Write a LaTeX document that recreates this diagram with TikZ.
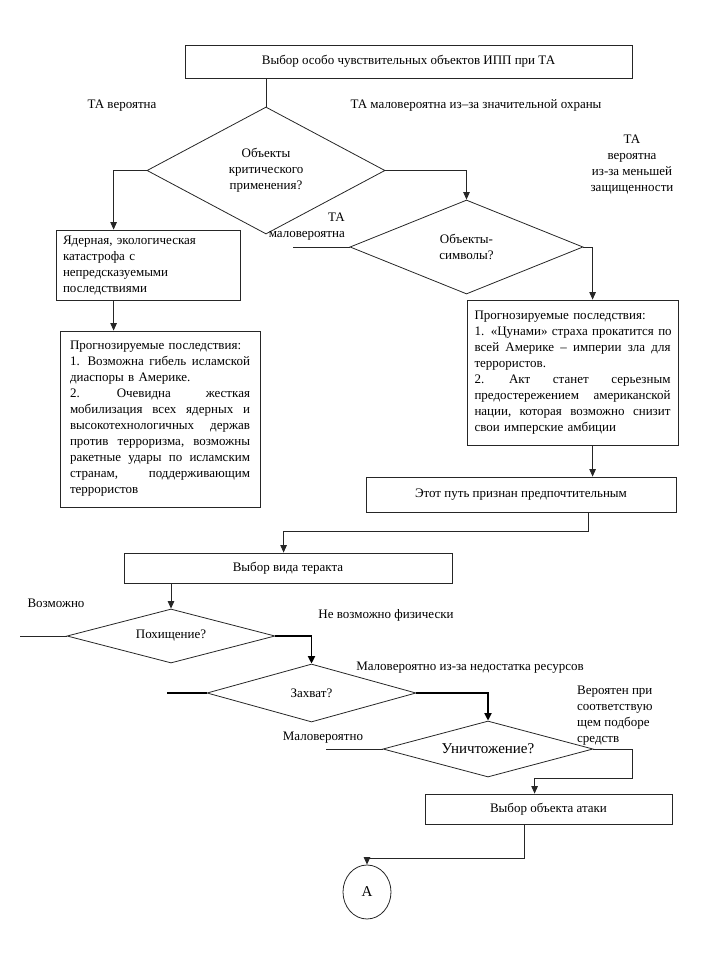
\documentclass[tikz,border=0pt]{standalone}
\usepackage{fontspec}
\setmainfont{Liberation Serif}
\usetikzlibrary{shapes.geometric,arrows.meta}

\newcommand{\jline}[2][180pt]{\makebox[#1][s]{#2}}

\begin{document}
\begin{tikzpicture}[x=1pt, y=-1pt,
		font=\fontsize{13}{16}\selectfont,
		block/.style={draw=black!85, rectangle, line width=0.8pt, inner sep=0pt},
		decision/.style={draw=black!85, diamond, aspect=3, line width=0.8pt, inner sep=0pt, align=center},
		flow/.style={draw=black!85, line width=0.8pt, -{Triangle[width=6.5pt,length=7.5pt]}},
		boldflow/.style={draw=black, line width=1.8pt, -{Triangle[width=7pt,length=7.5pt]}},
		plain/.style={draw=black!85, line width=0.8pt},
		tag/.style={inner sep=0pt, align=center}]

		\useasboundingbox (0,0) rectangle (711,971);

		% first choice
		\node[block, minimum width=447pt, minimum height=33pt] (selbox) at (408.5,61.5) {Выбор особо чувствительных объектов ИПП при ТА};
		\node[decision, minimum width=238pt, minimum height=127pt] (objcrit) at (266,170.5) {Объекты\\критического\\применения?};
		\node[decision, minimum width=233pt, minimum height=94pt] (objsym) at (466.5,247) {Объекты-\\символы?};

		% left branch
		\node[block, minimum width=184pt, minimum height=70pt, text width=170pt, align=left] (nuclear) at (148,265)
			{Ядерная, экологическая\\катастрофа с\\непредсказуемыми\\последствиями};
		\node[block, minimum width=200pt, minimum height=176pt, text width=180pt, align=left] (forecastL) at (160,419)
			{Прогнозируемые последствия:\\
			\jline{1. \hfill Возможна \hfill гибель \hfill исламской}\\
			диаспоры в Америке.\\
			\jline{2. \hfill Очевидна \hfill жесткая}\\
			\jline{мобилизация \hfill всех \hfill ядерных \hfill и}\\
			\jline{высокотехнологичных \hfill держав}\\
			\jline{против \hfill терроризма, \hfill возможны}\\
			\jline{ракетные \hfill удары \hfill по \hfill исламским}\\
			\jline{странам, \hfill поддерживающим}\\
			террористов};

		% right branch
		\node[block, minimum width=211pt, minimum height=145pt, text width=196pt, align=left] (forecastR) at (572.5,372.5)
			{Прогнозируемые последствия:\\
			\jline[196pt]{1. \hfill «Цунами» \hfill страха \hfill прокатится \hfill по}\\
			\jline[196pt]{всей \hfill Америке \hfill – \hfill империи \hfill зла \hfill для}\\
			террористов.\\
			\jline[196pt]{2. \hfill Акт \hfill станет \hfill серьезным}\\
			\jline[196pt]{предостережением \hfill американской}\\
			\jline[196pt]{нации, \hfill которая \hfill возможно \hfill снизит}\\
			свои имперские амбиции};
		\node[block, minimum width=310pt, minimum height=35pt] (pathbox) at (521,494.5) {Этот путь признан предпочтительным};

		% second choice
		\node[block, minimum width=328pt, minimum height=30pt] (typebox) at (288,568) {Выбор вида теракта};
		\node[decision, minimum width=208pt, minimum height=54pt] (abduct) at (171,636) {Похищение?};
		\node[decision, minimum width=209pt, minimum height=58pt] (seize) at (311.5,693) {Захват?};
		\node[decision, minimum width=210pt, minimum height=56pt, font=\fontsize{15}{18}\selectfont] (destroy) at (488,749) {Уничтожение?};
		\node[block, minimum width=247pt, minimum height=30pt] (targetbox) at (548.5,809) {Выбор объекта атаки};
		\node[draw=black!85, ellipse, line width=0.8pt, minimum width=48pt, minimum height=54pt, inner sep=0pt,
			font=\fontsize{15}{18}\selectfont] (markA) at (367,892) {А};

		% labels
		\node[tag] (lblyes) at (122,106) {ТА вероятна};
		\node[tag] (lblguard) at (476,105) {ТА маловероятна из–за значительной охраны};
		\node[tag] (lblweak) at (632,164.5) {ТА\\вероятна\\из-за меньшей\\защищенности};
		\node[tag, anchor=east, align=right] (lblsym) at (345,227) {ТА\\маловероятна};
		\node[tag] (lblpossible) at (56,603) {Возможно};
		\node[tag] (lblphys) at (386,615) {Не возможно физически};
		\node[tag] (lblres) at (470,668) {Маловероятно из-за недостатка ресурсов};
		\node[tag] (lblunlikely) at (323,738) {Маловероятно};
		\node[tag, anchor=west, align=left] (lblmeans) at (577,715.5) {Вероятен при\\соответствую\\щем подборе\\средств};

		% free ends
		\coordinate (symstub) at ([xshift=-57pt]objsym.west);
		\coordinate (abdstub) at ([xshift=-47pt]abduct.west);
		\coordinate (seizestub) at ([xshift=-40pt]seize.west);
		\coordinate (destub) at ([xshift=-57pt]destroy.west);

		% draw upper connectors
		\draw[plain] (objcrit.north |- selbox.south) -- (objcrit.north);
		\draw[flow] (objcrit.west) -| ([xshift=58pt]nuclear.north west);
		\draw[flow] ([xshift=58pt]nuclear.south west) -- ([xshift=58pt]nuclear.south west |- forecastL.north);
		\draw[flow] (objcrit.east) -| (objsym.north);
		\draw[plain] (objsym.west) -- (symstub);
		\draw[flow] (objsym.east) -| ([xshift=126pt]forecastR.north west);
		\draw[flow] ([xshift=126pt]forecastR.south west) -- ([xshift=126pt]forecastR.south west |- pathbox.north);
		\draw[flow] ([xshift=223pt]pathbox.south west) -- ++(0,19) -| ([xshift=160pt]typebox.north west);

		% draw lower connectors
		\draw[flow] (abduct.north |- typebox.south) -- (abduct.north);
		\draw[plain] (abduct.west) -- (abdstub);
		\draw[boldflow] (abduct.east) -| (seize.north);
		\draw[boldflow, -] (seize.west) -- (seizestub);
		\draw[boldflow] (seize.east) -| (destroy.north);
		\draw[plain] (destroy.west) -- (destub);
		\draw[flow] (destroy.east) -- ++(39,0) -- ++(0,29) -| ([xshift=110pt]targetbox.north west);
		\draw[flow] ([xshift=100pt]targetbox.south west) -- ++(0,34) -| (markA.north);

	\end{tikzpicture}
\end{document}
